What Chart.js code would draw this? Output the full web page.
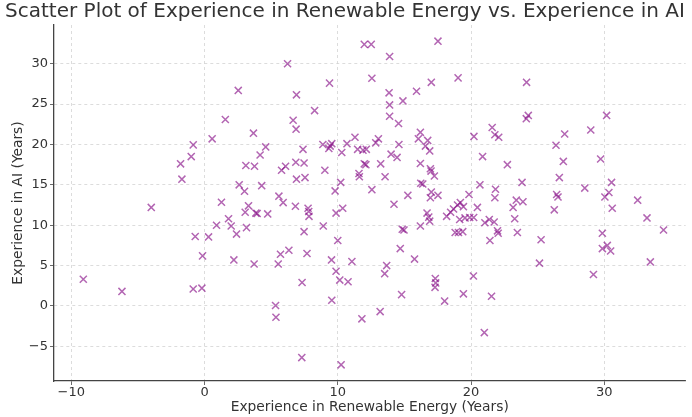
<!DOCTYPE html>
<html>
<head>
<meta charset="utf-8">
<script src="https://cdn.jsdelivr.net/npm/chart.js@4.4.1/dist/chart.umd.min.js"></script>
<style>
  html, body { margin: 0; padding: 0; background: #fff; }
</style>
</head>
<body>
<canvas id="myChart" width="692" height="417"></canvas>
<script>
// experience in renewable energy (x) and in AI (y)
const renewableYears = [
  -9.1, -6.2, -4.0, -1.8, -1.7, -1.0, -0.85, -0.85, -0.2, -0.15, -0.7, 0.3, 0.57, 0.9, 1.27, 1.56, 1.8, 2.0, 2.4, 2.2,
  2.53, 2.6, 3.0, 3.1, 3.15, 3.05, 3.3, 3.67, 3.75, 3.72, 3.85, 3.95, 4.17, 4.29, 4.59, 4.74, 5.33, 5.36, 5.53, 5.58,
  5.7, 5.78, 5.9, 6.08, 6.23, 6.33, 6.65, 6.82, 6.85, 6.87, 6.9, 6.9, 7.3, 7.32, 7.39, 7.47, 7.47, 7.54, 7.69, 7.77,
  7.82, 7.84, 8.26, 8.88, 8.91, 9.03, 9.33, 9.43, 9.38, 9.53, 9.55, 9.55, 9.8, 9.87, 9.87, 10.0, 10.15, 10.22, 10.25, 10.3,
  10.37, 10.69, 10.77, 11.06, 11.29, 11.49, 11.59, 11.62, 11.81, 11.89, 11.99, 11.99, 12.11, 12.14, 12.51, 12.56, 12.56, 12.85, 13.05, 13.18,
  13.22, 13.52, 13.55, 13.67, 13.85, 13.89, 13.89, 13.89, 14.0, 14.22, 14.45, 14.56, 14.59, 14.69, 14.79, 14.84, 14.97, 14.89, 15.26, 15.76,
  15.91, 16.05, 16.2, 16.2, 16.2, 16.23, 16.38, 16.58, 16.7, 16.75, 16.83, 16.9, 16.9, 16.95, 17.0, 16.95, 17.02, 17.02, 17.25, 17.32,
  17.35, 17.3, 17.52, 17.52, 18.02, 18.17, 18.47, 18.69, 18.99, 19.2, 19.43, 18.81, 19.06, 19.38, 19.03, 19.15, 19.55, 19.9, 20.2, 19.43,
  19.85, 20.18, 20.22, 20.48, 20.67, 20.87, 21.0, 21.04, 21.37, 21.74, 21.42, 21.54, 21.59, 21.79, 22.08, 21.79, 21.84, 21.99, 22.04, 22.73,
  23.16, 23.28, 23.4, 23.9, 23.48, 23.83, 24.15, 24.3, 24.17, 25.26, 25.14, 26.25, 26.38, 26.43, 26.53, 26.63, 26.93, 27.03, 28.54, 28.99,
  29.19, 29.73, 29.86, 29.86, 30.23, 30.48, 30.05, 30.35, 30.55, 30.6, 30.18, 32.51, 33.21, 33.46, 34.45
];
const aiYears = [
  3.3, 1.8, 12.2, 17.6, 15.7, 18.5, 19.95, 2.1, 2.2, 6.2, 8.6, 8.55, 20.7, 10.0, 12.85, 23.1, 10.8, 9.9, 8.9, 5.7,
  26.7, 15.0, 14.2, 17.4, 9.7, 11.6, 12.4, 21.4, 17.3, 5.2, 11.5, 11.45, 18.7, 14.9, 19.7, 11.4, 0.05, -1.4, 5.2, 13.6,
  6.4, 16.8, 12.8, 17.3, 30.0, 6.9, 23.0, 12.35, 17.8, 21.9, 26.15, 15.7, -6.4, 2.9, 19.4, 17.7, 9.2, 15.9, 6.5, 12.1,
  11.7, 11.1, 24.2, 20.0, 9.9, 16.8, 19.5, 19.8, 27.6, 5.7, 20.1, 0.7, 14.25, 11.5, 4.3, 8.1, 3.2, 15.3, -7.3, 19.0,
  12.1, 20.1, 3.0, 5.5, 20.9, 19.4, 16.4, 16.0, -1.6, 19.3, 32.4, 17.6, 17.5, 19.4, 32.4, 28.2, 14.4, 20.2, 20.7, -0.7,
  17.6, 4.0, 16.0, 5.0, 26.4, 30.9, 24.9, 23.5, 18.8, 12.6, 18.4, 22.6, 20.0, 7.1, 1.4, 9.5, 9.4, 25.4, 13.7, 5.8,
  26.6, 20.7, 21.5, 17.65, 9.9, 15.2, 15.1, 19.8, 11.5, 20.5, 11.0, 19.2, 10.5, 17.0, 16.7, 13.4, 14.1, 27.7, 16.1, 3.4,
  2.85, 2.3, 32.8, 13.7, 0.6, 11.1, 11.6, 12.0, 12.5, 12.8, 12.3, 9.1, 9.1, 9.2, 28.25, 10.7, 10.9, 10.95, 10.95, 1.5,
  13.8, 3.7, 21.0, 12.2, 15.0, 18.5, -3.3, 10.3, 10.7, 10.4, 8.1, 1.2, 22.1, 21.2, 20.9, 13.4, 14.46, 9.3, 9.0, 17.5,
  12.2, 10.8, 13.1, 12.9, 9.1, 15.3, 23.2, 23.6, 27.7, 8.2, 5.3, 11.9, 19.9, 13.8, 13.5, 15.9, 17.9, 21.3, 14.6, 21.8,
  3.9, 18.2, 9.0, 7.1, 7.5, 6.8, 13.5, 14.05, 15.3, 12.1, 23.6, 13.1, 10.9, 5.45, 9.4
];

const xTicks = [-10, 0, 10, 20, 30];
const yTicks = [-5, 0, 5, 10, 15, 20, 25, 30];

const points = renewableYears.map((x, i) => ({ x: x, y: aiYears[i] }));
const fmt = (v) => (v < 0 ? "\u2212" + Math.abs(v) : String(v));
const textColor = "#333";
const spineColor = "#444";
const gridColor = "#d4d4d4";

const ctx = document.getElementById("myChart");
new Chart(ctx, {
  type: "scatter",
  data: {
    datasets: [
      {
        label: "AI vs Renewable",
        data: points,
        pointStyle: "crossRot",
        pointRadius: 5,
        pointHoverRadius: 5,
        borderWidth: 1.5,
        borderColor: "rgba(128, 0, 128, 0.6)",
        backgroundColor: "rgba(128, 0, 128, 0.6)",
      },
    ],
  },
  options: {
    responsive: false,
    devicePixelRatio: 1,
    animation: false,
    layout: { padding: { left: 0, right: 2, top: 0, bottom: 0 } },
    plugins: {
      legend: { display: false },
      tooltip: { enabled: false },
      title: {
        display: true,
        text: "Scatter Plot of Experience in Renewable Energy vs. Experience in AI",
        color: textColor,
        font: { family: "DejaVu Sans", size: 20, weight: "normal" },
        padding: { top: 0, bottom: 1 },
      },
    },
    scales: {
      x: {
        type: "linear",
        min: -11.3,
        max: 36.1,
        afterBuildTicks: (scale) => { scale.ticks = xTicks.map((v) => ({ value: v })); },
        afterFit: (scale) => { scale.height = 36; },
        ticks: {
          color: textColor,
          font: { family: "DejaVu Sans", size: 13 },
          padding: 0,
          callback: (v) => fmt(v),
        },
        grid: { color: gridColor, lineWidth: 0.8, tickLength: 4, tickColor: spineColor },
        border: { display: true, color: spineColor, width: 1.3, dash: [3, 3] },
        title: {
          display: true,
          text: "Experience in Renewable Energy (Years)",
          color: textColor,
          font: { family: "DejaVu Sans", size: 13.8 },
          padding: { top: 0, bottom: 1.7 },
        },
      },
      y: {
        type: "linear",
        min: -9.3,
        max: 34.8,
        afterBuildTicks: (scale) => { scale.ticks = yTicks.map((v) => ({ value: v })); },
        afterFit: (scale) => { scale.width = 54; },
        ticks: {
          color: textColor,
          font: { family: "DejaVu Sans", size: 13 },
          padding: 2,
          callback: (v) => fmt(v),
        },
        grid: { color: gridColor, lineWidth: 0.8, tickLength: 4, tickColor: spineColor },
        border: { display: true, color: spineColor, width: 1.3, dash: [3, 3] },
        title: {
          display: true,
          text: "Experience in AI (Years)",
          color: textColor,
          font: { family: "DejaVu Sans", size: 13.8 },
          padding: { top: 9.7, bottom: 0 },
        },
      },
    },
  },
});
</script>
</body>
</html>
